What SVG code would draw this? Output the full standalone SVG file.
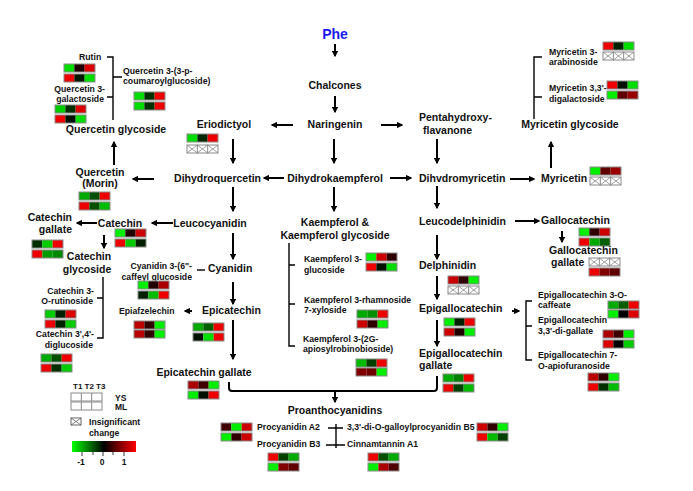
<svg xmlns="http://www.w3.org/2000/svg" xmlns:xlink="http://www.w3.org/1999/xlink" width="693" height="491" viewBox="0 0 693 491">
<style>
text{font-family:"Liberation Sans",Arial,sans-serif;font-weight:bold;fill:#111}
.m{font-size:10.5px}
.s{font-size:8.7px}
.phe{font-size:14px;fill:#1a1aee}
.ar{stroke:#000;stroke-width:2;fill:none;marker-end:url(#ah)}
.br{stroke:#000;stroke-width:1.4;fill:none}
.bd{fill:none;stroke:#8a8a8a;stroke-width:1}
.xl{stroke:#777;stroke-width:0.7;fill:none}
</style>
<defs>
<marker id="ah" viewBox="0 0 10 10" refX="8" refY="5" markerWidth="3.2" markerHeight="3.2" orient="auto"><path d="M0,0 L10,5 L0,10 z" fill="#000"/></marker>
<g id="xs"><rect width="31" height="8" fill="#fff"/><path class="xl" d="M0,0 L10.33,8 M10.33,0 L0,8 M10.33,0 L20.67,8 M20.67,0 L10.33,8 M20.67,0 L31,8 M31,0 L20.67,8"/><rect class="bd" width="31" height="8"/><path class="bd" d="M10.33,0V8M20.67,0V8"/></g>
<linearGradient id="cb" x1="0" x2="1" y1="0" y2="0"><stop offset="0" stop-color="#00ff00"/><stop offset="0.5" stop-color="#000"/><stop offset="1" stop-color="#ff0000"/></linearGradient>
</defs>

<g id="connectors">
<path class="ar" d="M335,44V56"/>
<path class="ar" d="M335,96V112"/>
<path class="ar" d="M293,125H272"/>
<path class="ar" d="M381,125H402"/>
<path class="ar" d="M233,139V163"/>
<path class="ar" d="M334,139V163"/>
<path class="ar" d="M437,139V163"/>
<path class="ar" d="M284,178H264"/>
<path class="ar" d="M390,178H411"/>
<path class="ar" d="M154,179H133"/>
<path class="ar" d="M114,165V142"/>
<path class="ar" d="M510,179H534"/>
<path class="ar" d="M551,168V142"/>
<path class="ar" d="M233,187V211"/>
<path class="ar" d="M334,187V211"/>
<path class="ar" d="M437,186V208"/>
<path class="ar" d="M173,223H152"/>
<path class="ar" d="M97,223H77"/>
<path class="ar" d="M104,235V248"/>
<path class="ar" d="M233,233V259"/>
<path class="ar" d="M233,282V304"/>
<path class="ar" d="M192,311H185"/>
<path class="ar" d="M233,320V359"/>
<path class="ar" d="M515,221H539"/>
<path class="ar" d="M562,231V242"/>
<path class="ar" d="M437,235V259"/>
<path class="ar" d="M437,276V299"/>
<path class="ar" d="M512,311H519"/>
<path class="ar" d="M437,320V346"/>
<path class="br" style="stroke-width:2" d="M229,382V388Q229,391 232,391H434Q437,391 437,388V376"/>
<path class="ar" d="M335,391V402"/>
<path class="br" d="M336,424V448M328,428H343M326,445H345"/>
<path class="br" d="M107,57H113V120M107,97H113M113,77H122"/>
<path class="br" d="M542,57H534V119M534,97H542"/>
<path class="br" d="M103,277V338H97M97,298H103"/>
<path class="br" d="M289,243V346H295M289,265H295M289,304H295"/>
<path class="br" d="M532,301H526V360H532M526,326H532"/>
<path class="br" d="M197,270H205"/>
</g>

<g id="n-phe"><text class="phe" x="335" y="39" text-anchor="middle">Phe</text></g>
<g id="n-chalcones"><text class="m" x="335" y="89" text-anchor="middle">Chalcones</text></g>
<g id="n-naringenin"><text class="m" x="335" y="128" text-anchor="middle">Naringenin</text></g>
<g id="n-eriodictyol"><text class="m" x="224" y="128" text-anchor="middle">Eriodictyol</text>
<g transform="translate(187,134)"><rect width="10.33" height="8" fill="#00dd00"/><rect x="10.33" width="10.34" height="8" fill="#002800"/><rect x="20.67" width="10.33" height="8" fill="#ee0000"/><rect class="bd" width="31" height="8"/></g>
<use xlink:href="#xs" x="187" y="145"/></g>
<g id="n-penta"><text class="m" x="419" y="121">Pentahydroxy-</text><text class="m" x="423" y="134">flavanone</text></g>
<g id="n-dhq"><text class="m" x="261" y="182" text-anchor="end">Dihydroquercetin</text></g>
<g id="n-dhk"><text class="m" x="335" y="182" text-anchor="middle">Dihydrokaempferol</text></g>
<g id="n-dhm"><text class="m" x="419" y="182">Dihvdromyricetin</text></g>

<g id="n-quercetin"><text class="m" x="100" y="176" text-anchor="middle">Quercetin</text><text class="m" x="100" y="187" text-anchor="middle">(Morin)</text>
<g transform="translate(79,192)"><rect width="10.33" height="8" fill="#00aa00"/><rect x="10.33" width="10.34" height="8" fill="#005000"/><rect x="20.67" width="10.33" height="8" fill="#ee0000"/><rect class="bd" width="31" height="8"/></g>
<g transform="translate(79,202)"><rect width="10.33" height="8" fill="#ee0000"/><rect x="10.33" width="10.34" height="8" fill="#005000"/><rect x="20.67" width="10.33" height="8" fill="#00bb00"/><rect class="bd" width="31" height="8"/></g></g>

<g id="n-qglyc"><text class="m" x="116" y="133" text-anchor="middle">Quercetin glycoside</text></g>
<g id="n-rutin"><text class="s" x="79" y="60">Rutin</text>
<g transform="translate(64,64)"><rect width="10.33" height="8" fill="#00dd00"/><rect x="10.33" width="10.34" height="8" fill="#200000"/><rect x="20.67" width="10.33" height="8" fill="#dd0000"/><rect class="bd" width="31" height="8"/></g>
<g transform="translate(64,74)"><rect width="10.33" height="8" fill="#ee0000"/><rect x="10.33" width="10.34" height="8" fill="#001800"/><rect x="20.67" width="10.33" height="8" fill="#00dd00"/><rect class="bd" width="31" height="8"/></g></g>
<g id="n-q3gal"><text class="s" x="105" y="92" text-anchor="end">Quercetin 3-</text><text class="s" x="104" y="102" text-anchor="end">galactoside</text>
<g transform="translate(55,105)"><rect width="10.33" height="8" fill="#00cc00"/><rect x="10.33" width="10.34" height="8" fill="#003000"/><rect x="20.67" width="10.33" height="8" fill="#dd0000"/><rect class="bd" width="31" height="8"/></g>
<g transform="translate(55,115)"><rect width="10.33" height="8" fill="#ee0000"/><rect x="10.33" width="10.34" height="8" fill="#001000"/><rect x="20.67" width="10.33" height="8" fill="#00dd00"/><rect class="bd" width="31" height="8"/></g></g>
<g id="n-q3coum"><text class="s" x="123" y="74">Quercetin 3-(3-p-</text><text class="s" x="123" y="84">coumaroylglucoside)</text>
<g transform="translate(134,92)"><rect width="10.33" height="8" fill="#00dd00"/><rect x="10.33" width="10.34" height="8" fill="#003000"/><rect x="20.67" width="10.33" height="8" fill="#ee0000"/><rect class="bd" width="31" height="8"/></g>
<g transform="translate(134,102)"><rect width="10.33" height="8" fill="#00dd00"/><rect x="10.33" width="10.34" height="8" fill="#003000"/><rect x="20.67" width="10.33" height="8" fill="#ee0000"/><rect class="bd" width="31" height="8"/></g></g>

<g id="n-mglyc"><text class="m" x="570" y="128" text-anchor="middle">Myricetin glycoside</text></g>
<g id="n-m3ara"><text class="s" x="549" y="55">Myricetin 3-</text><text class="s" x="549" y="65">arabinoside</text>
<g transform="translate(603,42)"><rect width="10.33" height="8" fill="#ee0000"/><rect x="10.33" width="10.34" height="8" fill="#002000"/><rect x="20.67" width="10.33" height="8" fill="#00dd00"/><rect class="bd" width="31" height="8"/></g>
<use xlink:href="#xs" x="603" y="52"/></g>
<g id="n-m33"><text class="s" x="549" y="91">Myricetin 3,3'-</text><text class="s" x="549" y="102">digalactoside</text>
<g transform="translate(607,81)"><rect width="10.33" height="8" fill="#ee0000"/><rect x="10.33" width="10.34" height="8" fill="#001000"/><rect x="20.67" width="10.33" height="8" fill="#00dd00"/><rect class="bd" width="31" height="8"/></g>
<g transform="translate(607,91)"><rect width="10.33" height="8" fill="#00ee00"/><rect x="10.33" width="10.34" height="8" fill="#600000"/><rect x="20.67" width="10.33" height="8" fill="#990000"/><rect class="bd" width="31" height="8"/></g></g>
<g id="n-myricetin"><text class="m" x="541" y="182">Myricetin</text>
<g transform="translate(590,167)"><rect width="10.33" height="8" fill="#00ee00"/><rect x="10.33" width="10.34" height="8" fill="#600000"/><rect x="20.67" width="10.33" height="8" fill="#990000"/><rect class="bd" width="31" height="8"/></g>
<use xlink:href="#xs" x="590" y="177"/></g>

<g id="n-leucocyanidin"><text class="m" x="210" y="227" text-anchor="middle">Leucocyanidin</text></g>
<g id="n-catechin"><text class="m" x="120" y="227" text-anchor="middle">Catechin</text>
<g transform="translate(115,229)"><rect width="10.33" height="8" fill="#00ee00"/><rect x="10.33" width="10.34" height="8" fill="#200000"/><rect x="20.67" width="10.33" height="8" fill="#cc0000"/><rect class="bd" width="31" height="8"/></g>
<g transform="translate(115,239)"><rect width="10.33" height="8" fill="#ee0000"/><rect x="10.33" width="10.34" height="8" fill="#00cc00"/><rect x="20.67" width="10.33" height="8" fill="#002000"/><rect class="bd" width="31" height="8"/></g></g>
<g id="n-catgal"><text class="m" x="72" y="221" text-anchor="end">Catechin</text><text class="m" x="72" y="233" text-anchor="end">gallate</text>
<g transform="translate(32,240)"><rect width="10.33" height="8" fill="#003000"/><rect x="10.33" width="10.34" height="8" fill="#00cc00"/><rect x="20.67" width="10.33" height="8" fill="#ee0000"/><rect class="bd" width="31" height="8"/></g>
<g transform="translate(32,250)"><rect width="10.33" height="8" fill="#ee0000"/><rect x="10.33" width="10.34" height="8" fill="#009900"/><rect x="20.67" width="10.33" height="8" fill="#008800"/><rect class="bd" width="31" height="8"/></g></g>
<g id="n-catglyc"><text class="m" x="89" y="260" text-anchor="middle">Catechin</text><text class="m" x="87" y="273" text-anchor="middle">glycoside</text></g>
<g id="n-cat3rut"><text class="s" x="94" y="294" text-anchor="end">Catechin 3-</text><text class="s" x="93" y="304" text-anchor="end">O-rutinoside</text>
<g transform="translate(45,310)"><rect width="10.33" height="8" fill="#00cc00"/><rect x="10.33" width="10.34" height="8" fill="#002000"/><rect x="20.67" width="10.33" height="8" fill="#dd0000"/><rect class="bd" width="31" height="8"/></g>
<g transform="translate(45,320)"><rect width="10.33" height="8" fill="#ee0000"/><rect x="10.33" width="10.34" height="8" fill="#002000"/><rect x="20.67" width="10.33" height="8" fill="#00cc00"/><rect class="bd" width="31" height="8"/></g></g>
<g id="n-cat34"><text class="s" x="94" y="337" text-anchor="end">Catechin 3',4'-</text><text class="s" x="93" y="348" text-anchor="end">diglucoside</text>
<g transform="translate(41,354)"><rect width="10.33" height="8" fill="#00aa00"/><rect x="10.33" width="10.34" height="8" fill="#005000"/><rect x="20.67" width="10.33" height="8" fill="#ee0000"/><rect class="bd" width="31" height="8"/></g>
<g transform="translate(41,364)"><rect width="10.33" height="8" fill="#ee0000"/><rect x="10.33" width="10.34" height="8" fill="#003000"/><rect x="20.67" width="10.33" height="8" fill="#00cc00"/><rect class="bd" width="31" height="8"/></g></g>

<g id="n-cy3caf"><text class="s" x="192" y="269" text-anchor="end">Cyanidin 3-(6"-</text><text class="s" x="192" y="280" text-anchor="end">caffeyl glucoside</text>
<g transform="translate(138,281)"><rect width="10.33" height="8" fill="#00ee00"/><rect x="10.33" width="10.34" height="8" fill="#200000"/><rect x="20.67" width="10.33" height="8" fill="#aa0000"/><rect class="bd" width="31" height="8"/></g>
<g transform="translate(138,291)"><rect width="10.33" height="8" fill="#002000"/><rect x="10.33" width="10.34" height="8" fill="#00bb00"/><rect x="20.67" width="10.33" height="8" fill="#ee0000"/><rect class="bd" width="31" height="8"/></g></g>
<g id="n-cyanidin"><text class="m" x="208" y="272">Cyanidin</text></g>
<g id="n-epiafz"><text class="s" x="119" y="314">Epiafzelechin</text>
<g transform="translate(134,321)"><rect width="10.33" height="8" fill="#bb0000"/><rect x="10.33" width="10.34" height="8" fill="#300000"/><rect x="20.67" width="10.33" height="8" fill="#00ee00"/><rect class="bd" width="31" height="8"/></g>
<g transform="translate(134,330)"><rect width="10.33" height="8" fill="#bb0000"/><rect x="10.33" width="10.34" height="8" fill="#300000"/><rect x="20.67" width="10.33" height="8" fill="#00ee00"/><rect class="bd" width="31" height="8"/></g></g>
<g id="n-epicatechin"><text class="m" x="202" y="314">Epicatechin</text>
<g transform="translate(193,323)"><rect width="10.33" height="8" fill="#00aa00"/><rect x="10.33" width="10.34" height="8" fill="#006000"/><rect x="20.67" width="10.33" height="8" fill="#ee0000"/><rect class="bd" width="31" height="8"/></g>
<g transform="translate(193,333)"><rect width="10.33" height="8" fill="#001000"/><rect x="10.33" width="10.34" height="8" fill="#00dd00"/><rect x="20.67" width="10.33" height="8" fill="#ee0000"/><rect class="bd" width="31" height="8"/></g></g>
<g id="n-ecg"><text class="m" x="204" y="376" text-anchor="middle">Epicatechin gallate</text>
<g transform="translate(188,381)"><rect width="10.33" height="8" fill="#aa0000"/><rect x="10.33" width="10.34" height="8" fill="#400000"/><rect x="20.67" width="10.33" height="8" fill="#00ee00"/><rect class="bd" width="31" height="8"/></g>
<g transform="translate(188,391)"><rect width="10.33" height="8" fill="#00ee00"/><rect x="10.33" width="10.34" height="8" fill="#001000"/><rect x="20.67" width="10.33" height="8" fill="#ee0000"/><rect class="bd" width="31" height="8"/></g></g>

<g id="n-kaemp"><text class="m" x="335" y="226" text-anchor="middle">Kaempferol &amp;</text><text class="m" x="335" y="239" text-anchor="middle">Kaempferol glycoside</text></g>
<g id="n-k3glu"><text class="s" x="304" y="262">Kaempferol 3-</text><text class="s" x="304" y="273">glucoside</text>
<g transform="translate(366,253)"><rect width="10.33" height="8" fill="#00ee00"/><rect x="10.33" width="10.34" height="8" fill="#cc0000"/><rect x="20.67" width="10.33" height="8" fill="#300000"/><rect class="bd" width="31" height="8"/></g>
<g transform="translate(366,263)"><rect width="10.33" height="8" fill="#ee0000"/><rect x="10.33" width="10.34" height="8" fill="#001000"/><rect x="20.67" width="10.33" height="8" fill="#00dd00"/><rect class="bd" width="31" height="8"/></g></g>
<g id="n-k3rha"><text class="s" x="304" y="303">Kaempferol 3-rhamnoside</text><text class="s" x="304" y="313">7-xyloside</text>
<g transform="translate(357,310)"><rect width="10.33" height="8" fill="#00aa00"/><rect x="10.33" width="10.34" height="8" fill="#009000"/><rect x="20.67" width="10.33" height="8" fill="#ee0000"/><rect class="bd" width="31" height="8"/></g>
<g transform="translate(357,320)"><rect width="10.33" height="8" fill="#cc0000"/><rect x="10.33" width="10.34" height="8" fill="#300000"/><rect x="20.67" width="10.33" height="8" fill="#00ee00"/><rect class="bd" width="31" height="8"/></g></g>
<g id="n-k3api"><text class="s" x="303" y="342">Kaempferol 3-(2G-</text><text class="s" x="303" y="352">apiosylrobinobioside)</text>
<g transform="translate(356,359)"><rect width="10.33" height="8" fill="#00bb00"/><rect x="10.33" width="10.34" height="8" fill="#004000"/><rect x="20.67" width="10.33" height="8" fill="#ee0000"/><rect class="bd" width="31" height="8"/></g>
<g transform="translate(356,368)"><rect width="10.33" height="8" fill="#800000"/><rect x="10.33" width="10.34" height="8" fill="#700000"/><rect x="20.67" width="10.33" height="8" fill="#00ee00"/><rect class="bd" width="31" height="8"/></g></g>

<g id="n-leucodel"><text class="m" x="419" y="225">Leucodelphinidin</text></g>
<g id="n-gallocatechin"><text class="m" x="541" y="224">Gallocatechin</text>
<g transform="translate(579,228)"><rect width="10.33" height="8" fill="#00ee00"/><rect x="10.33" width="10.34" height="8" fill="#300000"/><rect x="20.67" width="10.33" height="8" fill="#cc0000"/><rect class="bd" width="31" height="8"/></g>
<g transform="translate(579,238)"><rect width="10.33" height="8" fill="#ee0000"/><rect x="10.33" width="10.34" height="8" fill="#00aa00"/><rect x="20.67" width="10.33" height="8" fill="#006000"/><rect class="bd" width="31" height="8"/></g></g>
<g id="n-gcg"><text class="m" x="549" y="254">Gallocatechin</text><text class="m" x="551" y="266">gallate</text>
<use xlink:href="#xs" x="589" y="258"/>
<g transform="translate(589,268)"><rect width="10.33" height="8" fill="#ee0000"/><rect x="10.33" width="10.34" height="8" fill="#800000"/><rect x="20.67" width="10.33" height="8" fill="#600000"/><rect class="bd" width="31" height="8"/></g></g>
<g id="n-delphinidin"><text class="m" x="419" y="269">Delphinidin</text>
<g transform="translate(448,276)"><rect width="10.33" height="8" fill="#cc0000"/><rect x="10.33" width="10.34" height="8" fill="#300000"/><rect x="20.67" width="10.33" height="8" fill="#00ee00"/><rect class="bd" width="31" height="8"/></g>
<use xlink:href="#xs" x="448" y="286"/></g>
<g id="n-egc"><text class="m" x="419" y="312">Epigallocatechin</text>
<g transform="translate(444,318)"><rect width="10.33" height="8" fill="#00ee00"/><rect x="10.33" width="10.34" height="8" fill="#002000"/><rect x="20.67" width="10.33" height="8" fill="#ee0000"/><rect class="bd" width="31" height="8"/></g>
<g transform="translate(444,328)"><rect width="10.33" height="8" fill="#cc0000"/><rect x="10.33" width="10.34" height="8" fill="#200000"/><rect x="20.67" width="10.33" height="8" fill="#00ee00"/><rect class="bd" width="31" height="8"/></g></g>
<g id="n-egcg"><text class="m" x="419" y="357">Epigallocatechin</text><text class="m" x="419" y="369">gallate</text>
<g transform="translate(443,374)"><rect width="10.33" height="8" fill="#00aa00"/><rect x="10.33" width="10.34" height="8" fill="#008000"/><rect x="20.67" width="10.33" height="8" fill="#ee0000"/><rect class="bd" width="31" height="8"/></g>
<g transform="translate(443,384)"><rect width="10.33" height="8" fill="#ee0000"/><rect x="10.33" width="10.34" height="8" fill="#004000"/><rect x="20.67" width="10.33" height="8" fill="#00bb00"/><rect class="bd" width="31" height="8"/></g></g>
<g id="n-egc3caf"><text class="s" x="538" y="298">Epigallocatechin 3-O-</text><text class="s" x="538" y="308">caffeate</text>
<g transform="translate(608,301)"><rect width="10.33" height="8" fill="#00aa00"/><rect x="10.33" width="10.34" height="8" fill="#006000"/><rect x="20.67" width="10.33" height="8" fill="#ee0000"/><rect class="bd" width="31" height="8"/></g>
<g transform="translate(608,310)"><rect width="10.33" height="8" fill="#00ee00"/><rect x="10.33" width="10.34" height="8" fill="#000000"/><rect x="20.67" width="10.33" height="8" fill="#dd0000"/><rect class="bd" width="31" height="8"/></g></g>
<g id="n-egc33"><text class="s" x="538" y="323">Epigallocatechin</text><text class="s" x="538" y="334">3,3'-di-gallate</text>
<g transform="translate(603,330)"><rect width="10.33" height="8" fill="#aa0000"/><rect x="10.33" width="10.34" height="8" fill="#400000"/><rect x="20.67" width="10.33" height="8" fill="#00ee00"/><rect class="bd" width="31" height="8"/></g>
<g transform="translate(603,340)"><rect width="10.33" height="8" fill="#dd0000"/><rect x="10.33" width="10.34" height="8" fill="#000000"/><rect x="20.67" width="10.33" height="8" fill="#00cc00"/><rect class="bd" width="31" height="8"/></g></g>
<g id="n-egc7"><text class="s" x="538" y="358">Epigallocatechin 7-</text><text class="s" x="538" y="369">O-apiofuranoside</text>
<g transform="translate(588,373)"><rect width="10.33" height="8" fill="#bb0000"/><rect x="10.33" width="10.34" height="8" fill="#300000"/><rect x="20.67" width="10.33" height="8" fill="#00ee00"/><rect class="bd" width="31" height="8"/></g>
<g transform="translate(588,383)"><rect width="10.33" height="8" fill="#ee0000"/><rect x="10.33" width="10.34" height="8" fill="#003000"/><rect x="20.67" width="10.33" height="8" fill="#00bb00"/><rect class="bd" width="31" height="8"/></g></g>

<g id="n-proantho"><text class="m" x="335" y="414" text-anchor="middle">Proanthocyanidins</text></g>
<g id="n-pa2"><text class="s" x="257" y="430">Procyanidin A2</text>
<g transform="translate(221,423)"><rect width="10.33" height="8" fill="#400000"/><rect x="10.33" width="10.34" height="8" fill="#00ee00"/><rect x="20.67" width="10.33" height="8" fill="#cc0000"/><rect class="bd" width="31" height="8"/></g>
<g transform="translate(221,433)"><rect width="10.33" height="8" fill="#00ee00"/><rect x="10.33" width="10.34" height="8" fill="#300000"/><rect x="20.67" width="10.33" height="8" fill="#cc0000"/><rect class="bd" width="31" height="8"/></g></g>
<g id="n-pb5"><text class="s" x="347" y="430">3,3'-di-O-galloylprocyanidin B5</text>
<g transform="translate(477,423)"><rect width="10.33" height="8" fill="#cc0000"/><rect x="10.33" width="10.34" height="8" fill="#300000"/><rect x="20.67" width="10.33" height="8" fill="#00ee00"/><rect class="bd" width="31" height="8"/></g>
<g transform="translate(477,433)"><rect width="10.33" height="8" fill="#ee0000"/><rect x="10.33" width="10.34" height="8" fill="#00bb00"/><rect x="20.67" width="10.33" height="8" fill="#004000"/><rect class="bd" width="31" height="8"/></g></g>
<g id="n-pb3"><text class="s" x="257" y="447">Procyanidin B3</text>
<g transform="translate(268,453)"><rect width="10.33" height="8" fill="#ee0000"/><rect x="10.33" width="10.34" height="8" fill="#004000"/><rect x="20.67" width="10.33" height="8" fill="#00aa00"/><rect class="bd" width="31" height="8"/></g>
<g transform="translate(268,463)"><rect width="10.33" height="8" fill="#00ee00"/><rect x="10.33" width="10.34" height="8" fill="#800000"/><rect x="20.67" width="10.33" height="8" fill="#600000"/><rect class="bd" width="31" height="8"/></g></g>
<g id="n-ca1"><text class="s" x="347" y="447">Cinnamtannin A1</text>
<g transform="translate(368,453)"><rect width="10.33" height="8" fill="#ee0000"/><rect x="10.33" width="10.34" height="8" fill="#005000"/><rect x="20.67" width="10.33" height="8" fill="#00aa00"/><rect class="bd" width="31" height="8"/></g>
<g transform="translate(368,463)"><rect width="10.33" height="8" fill="#00ee00"/><rect x="10.33" width="10.34" height="8" fill="#aa0000"/><rect x="20.67" width="10.33" height="8" fill="#500000"/><rect class="bd" width="31" height="8"/></g></g>

<g id="legend">
<text x="73" y="389" style="font-size:8px">T1 T2 T3</text>
<g transform="translate(71,393)"><rect class="bd" width="31" height="8" fill="#fff"/><path class="bd" d="M10.33,0V8M20.67,0V8"/></g>
<g transform="translate(71,402)"><rect class="bd" width="31" height="8" fill="#fff"/><path class="bd" d="M10.33,0V8M20.67,0V8"/></g>
<text x="115" y="401" style="font-size:8.5px">YS</text>
<text x="115" y="410" style="font-size:8.5px">ML</text>
<g transform="translate(71,418)"><rect width="10" height="7" fill="#fff" stroke="#666" stroke-width="1"/><path class="xl" style="stroke:#555" d="M0,0L10,7M10,0L0,7"/></g>
<text x="89" y="425" style="font-size:8.7px">Insignificant</text>
<text x="89" y="436" style="font-size:8.7px">change</text>
<rect x="72" y="441" width="64" height="11" fill="url(#cb)"/>
<path stroke="#000" stroke-width="0.8" d="M82,452V456M93,452V455M103,452V456M113,452V455M124,452V456"/>
<text x="81" y="465" text-anchor="middle" style="font-size:8.5px">-1</text>
<text x="102" y="465" text-anchor="middle" style="font-size:8.5px">0</text>
<text x="124" y="465" text-anchor="middle" style="font-size:8.5px">1</text>
</g>
</svg>
